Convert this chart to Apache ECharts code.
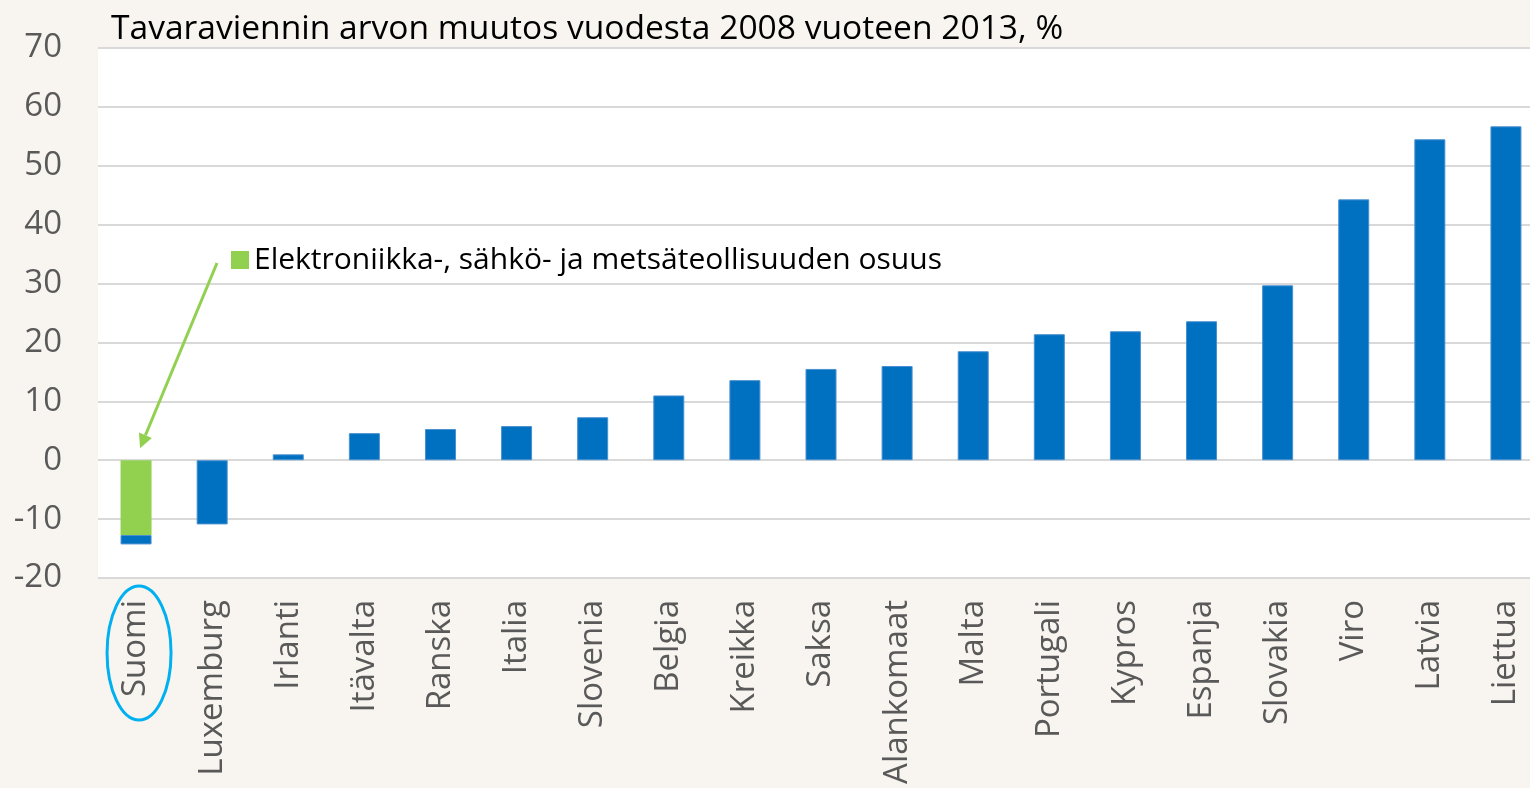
<!DOCTYPE html>
<html>
<head>
<meta charset="utf-8">
<script src="https://cdn.jsdelivr.net/npm/echarts@6/dist/echarts.min.js"></script>
<style>
  html, body { margin: 0; padding: 0; background: #f8f5f0; }
  #main { width: 1530px; height: 788px; }
</style>
</head>
<body>
<div id="main"></div>
<script>
// maat
var countries = ['Suomi', 'Luxemburg', 'Irlanti', 'Itävalta', 'Ranska', 'Italia', 'Slovenia', 'Belgia',
  'Kreikka', 'Saksa', 'Alankomaat', 'Malta', 'Portugali', 'Kypros', 'Espanja', 'Slovakia', 'Viro', 'Latvia', 'Liettua'];
// muutos ilman elektroniikka-osuutta (Suomi: jäljelle jäävä osa)
var other = [-1.6, -10.9, 1.0, 4.6, 5.3, 5.8, 7.3, 11.0, 13.6, 15.5, 16.0, 18.5, 21.4, 21.9, 23.6, 29.7, 44.3, 54.5, 56.7];
// elektroniikka-, sähkö- ja metsäteollisuuden osuus
var electro = [-12.7, '-', '-', '-', '-', '-', '-', '-', '-', '-', '-', '-', '-', '-', '-', '-', '-', '-', '-'];
var yTicks = { min: -20, max: 70, step: 10 };
var noteName = 'Elektroniikka-, sähkö- ja metsäteollisuuden osuus';

var myChart = echarts.init(document.getElementById('main'));
var font = '"Open Sans", sans-serif';

var option = {
  backgroundColor: '#f8f5f0',
  animation: false,
  textStyle: { fontFamily: font },
  title: {
    text: 'Tavaraviennin arvon muutos vuodesta 2008 vuoteen 2013, %',
    left: 106, top: 7,
    textStyle: { fontFamily: font, fontSize: 33.6, fontWeight: 'normal', color: '#000' }
  },
  legend: {
    data: [noteName],
    left: 226, top: 240,
    icon: 'rect', itemWidth: 18, itemHeight: 18, itemGap: 9,
    textStyle: { fontFamily: font, fontSize: 30, color: '#000' },
    selectedMode: false
  },
  grid: {
    left: 98, top: 48, width: 1446, height: 530,
    outerBoundsMode: 'none',
    show: true, backgroundColor: '#ffffff', borderWidth: 0
  },
  xAxis: {
    type: 'category',
    data: countries,
    axisLine: { show: false, onZero: false },
    axisTick: { show: false },
    axisLabel: { rotate: 90, margin: 22, fontSize: 33, color: '#595959', fontFamily: font }
  },
  yAxis: {
    type: 'value',
    min: yTicks.min, max: yTicks.max, interval: yTicks.step,
    axisLine: { show: false },
    axisTick: { show: false },
    splitLine: { lineStyle: { color: '#d9d9d9', width: 2 } },
    axisLabel: { fontSize: 33, color: '#595959', margin: 36, fontFamily: font }
  },
  series: [
    {
      name: noteName,
      type: 'bar',
      stack: 'a',
      barWidth: 31,
      itemStyle: { color: '#92d050' },
      data: electro
    },
    {
      name: 'Muu',
      type: 'bar',
      stack: 'a',
      barWidth: 31,
      itemStyle: { color: '#0070c0', borderColor: '#4a90d0', borderWidth: 1 },
      data: other
    }
  ]
};
myChart.setOption(option);

// nuoli ja ellipsi Suomen kohdalle
var tip = myChart.convertToPixel({ gridIndex: 0 }, ['Suomi', 0]);
var start = [217, 263];
var end = [tip[0] + 4, tip[1] - 12];
var ang = Math.atan2(end[1] - start[1], end[0] - start[0]);
var hl = 14, hw = 7;
var bx = end[0] - hl * Math.cos(ang), by = end[1] - hl * Math.sin(ang);
myChart.setOption({
  graphic: [
    {
      type: 'line',
      shape: { x1: start[0], y1: start[1], x2: bx, y2: by },
      style: { stroke: '#92d050', lineWidth: 3 }
    },
    {
      type: 'polygon',
      shape: { points: [
        [end[0], end[1]],
        [bx + hw * Math.sin(ang), by - hw * Math.cos(ang)],
        [bx - hw * Math.sin(ang), by + hw * Math.cos(ang)]
      ] },
      style: { fill: '#92d050' }
    },
    {
      type: 'ellipse',
      shape: { cx: tip[0] + 3, cy: 653, rx: 32, ry: 67 },
      style: { fill: 'none', stroke: '#00b0f0', lineWidth: 3 }
    }
  ]
});
</script>
</body>
</html>
